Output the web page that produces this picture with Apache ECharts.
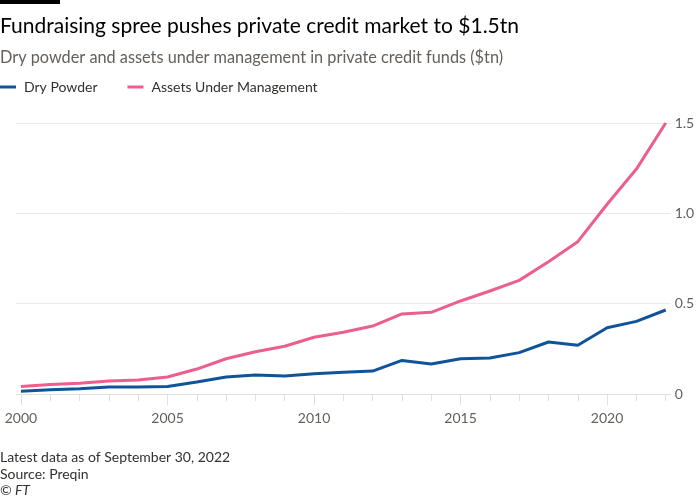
<!DOCTYPE html>
<html>
<head>
<meta charset="utf-8">
<script src="https://cdn.jsdelivr.net/npm/echarts@6/dist/echarts.min.js"></script>
<style>
html,body{margin:0;padding:0;background:#fff;}
#chart{width:700px;height:500px;}
</style>
</head>
<body>
<div id="chart"></div>
<script>
const years = [2000,2001,2002,2003,2004,2005,2006,2007,2008,2009,2010,2011,2012,2013,2014,2015,2016,2017,2018,2019,2020,2021,2022];
const dryPowder = [0.015,0.024,0.029,0.039,0.039,0.042,0.066,0.094,0.105,0.100,0.112,0.120,0.127,0.186,0.166,0.195,0.199,0.229,0.288,0.270,0.367,0.402,0.465];
const aum = [0.042,0.052,0.059,0.072,0.077,0.094,0.138,0.195,0.234,0.264,0.314,0.342,0.376,0.443,0.452,0.515,0.570,0.629,0.732,0.843,1.050,1.245,1.500];
const yearTicks = years.slice();
const yearLabels = [2000,2005,2010,2015,2020];
const yTicks = [0,0.5,1.0,1.5];

const FONT = 'Lato';
const chart = echarts.init(document.getElementById('chart'), null, {renderer:'canvas'});
const pair = (arr) => years.map((y,i)=>[y,arr[i]]);
chart.setOption({
  backgroundColor:'#fff',
  animation:false,
  textStyle:{fontFamily:FONT},
  graphic:[{type:'rect',left:0,top:0,shape:{width:60,height:4},style:{fill:'#000'}}],
  title:[
    {text:'Fundraising spree pushes private credit market to $1.5tn',left:-5,top:11,
     textStyle:{fontFamily:FONT,fontSize:21,fontWeight:'normal',color:'#000'}},
    {text:'Dry powder and assets under management in private credit funds ($tn)',left:-5,top:45,
     textStyle:{fontFamily:FONT,fontSize:16.3,fontWeight:'normal',color:'#66605c'}},
    {text:'Latest data as of September 30, 2022\nSource: Preqin',left:-5,top:444,
     textStyle:{fontFamily:FONT,fontSize:14,fontWeight:'normal',color:'#33302e',lineHeight:17}},
    {text:'© FT',left:-5,top:478,
     textStyle:{fontFamily:FONT,fontSize:14,fontWeight:'normal',fontStyle:'italic',color:'#33302e'}}
  ],
  legend:{
    left:0,top:80,padding:0,icon:'rect',itemWidth:16,itemHeight:3,itemGap:30,
    textStyle:{fontFamily:FONT,fontSize:14,color:'#33302e',padding:[0,0,0,3]},
    data:['Dry Powder','Assets Under Management']
  },
  grid:{left:16,right:29.3,top:123,bottom:106,containLabel:false},
  xAxis:[
    {type:'value',min:1999.83,max:2022.17,position:'bottom',
     axisLine:{show:true,lineStyle:{color:'#e3dfdb',width:1}},
     axisTick:{show:true,customValues:yearTicks,length:7,lineStyle:{color:'#e3dfdb'}},
     axisLabel:{show:false},splitLine:{show:false}},
    {type:'value',min:1999.83,max:2022.17,position:'bottom',
     axisLine:{show:false},
     axisTick:{show:true,customValues:yearLabels,length:11,lineStyle:{color:'#e3dfdb'}},
     axisLabel:{show:true,customValues:yearLabels,margin:17,fontFamily:FONT,fontSize:14,color:'#66605c',formatter:(v)=>String(v)},
     splitLine:{show:false}}
  ],
  yAxis:{type:'value',position:'right',min:0,max:1.5,interval:0.5,
    axisLine:{show:false},axisTick:{show:false},
    axisLabel:{margin:4,fontFamily:FONT,fontSize:14,color:'#66605c',
      formatter:(v)=> v===0?'0':v.toFixed(1)},
    splitLine:{show:true,lineStyle:{color:'#ece8e4',width:1}}},
  series:[
    {name:'Dry Powder',type:'line',data:pair(dryPowder),showSymbol:false,
     lineStyle:{color:'#0f5499',width:3},itemStyle:{color:'#0f5499'},z:3},
    {name:'Assets Under Management',type:'line',data:pair(aum),showSymbol:false,
     lineStyle:{color:'#eb5e8e',width:3},itemStyle:{color:'#eb5e8e'},z:2}
  ]
});
</script>
</body>
</html>
